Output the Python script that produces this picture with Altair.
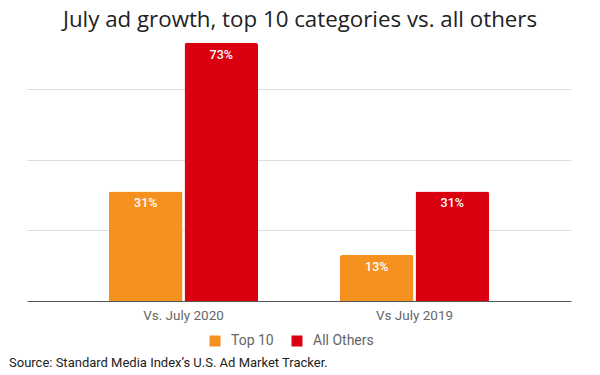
import altair as alt
import pandas as pd

categories = ["Vs. July 2020", "Vs July 2019"]
series = ["Top 10", "All Others"]
top10 = [31, 13]
all_others = [73, 31]
colors = ["#F5911E", "#DA0010"]
title_text = "July ad growth, top 10 categories vs. all others"
source_text = "Source: Standard Media Index\u2019s U.S. Ad Market Tracker."

rows = []
for i, c in enumerate(categories):
    rows.append({"category": c, "series": series[0], "value": top10[i], "label": f"{top10[i]}%"})
    rows.append({"category": c, "series": series[1], "value": all_others[i], "label": f"{all_others[i]}%"})
df = pd.DataFrame(rows)

x = alt.X("category:N", sort=categories, title=None,
          scale=alt.Scale(paddingInner=0.355, paddingOuter=0.355),
          axis=alt.Axis(labelAngle=0, ticks=False, labelPadding=7, labelFontSize=13.5,
                        labelColor="#666666", labelFont="Roboto",
                        domainColor="#555555", domainWidth=1))
xoff = alt.XOffset("series:N", sort=series, scale=alt.Scale(paddingInner=0.027))
y = alt.Y("value:Q", title=None, scale=alt.Scale(domain=[0, 75], nice=False),
          axis=alt.Axis(values=[20, 40, 60], labels=False, ticks=False, domain=False,
                        gridColor="#dddddd", gridWidth=1))

base = alt.Chart(df)
bars = base.mark_bar(cornerRadiusTopLeft=2, cornerRadiusTopRight=2).encode(
    x=x, xOffset=xoff, y=y,
    color=alt.Color("series:N", sort=series, title=None,
                    scale=alt.Scale(domain=series, range=colors),
                    legend=alt.Legend(orient="none", direction="horizontal",
                                      legendX=181, legendY=298, symbolType="square",
                                      symbolSize=121, symbolStrokeWidth=0,
                                      labelFontSize=14, labelColor="#666666",
                                      labelFont="Roboto", labelOffset=9,
                                      columnPadding=16, padding=0)),
)
labels = base.mark_text(baseline="middle", dy=12, color="white", fontSize=12.5,
                        font="Roboto", fontWeight=500).encode(
    x=alt.X("category:N", sort=categories), xOffset=alt.XOffset("series:N", sort=series),
    y=alt.Y("value:Q"), text="label:N")

title = alt.Chart(pd.DataFrame({"t": [title_text]})).mark_text(
    align="center", baseline="alphabetic", fontSize=22.3, font="Open Sans",
    color="#222222"
).encode(x=alt.value(273), y=alt.value(-9.5), text="t:N")

source = alt.Chart(pd.DataFrame({"t": [source_text]})).mark_text(
    align="left", baseline="middle", fontSize=13, font="Roboto", color="#222222"
).encode(x=alt.value(-18), y=alt.value(327), text="t:N")

chart = alt.layer(bars, labels, title, source).properties(
    width=544, height=265,
    autosize=alt.AutoSizeParams(type="none"),
    padding={"left": 19, "top": 28, "right": 21, "bottom": 75},
).configure_view(stroke=None)

chart.save("out.html", embed_options={"renderer": "svg", "actions": False})
